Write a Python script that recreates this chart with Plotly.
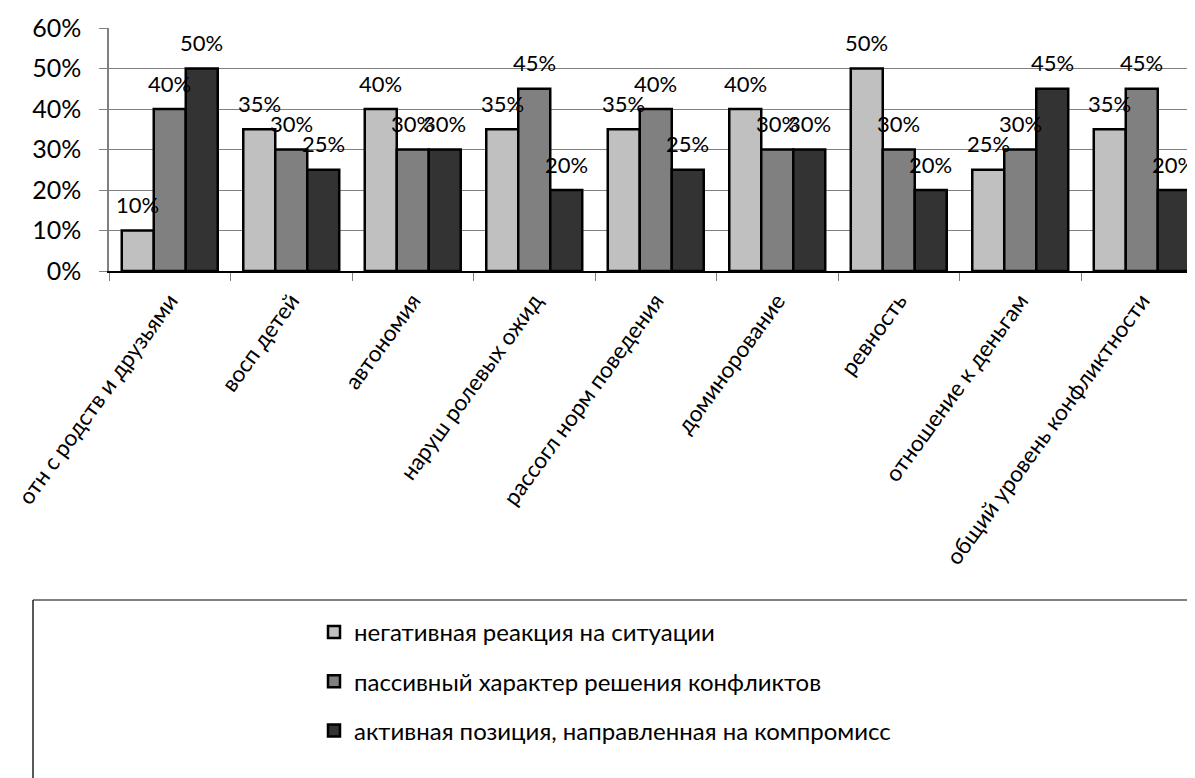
import plotly.graph_objects as go

categories = ["отн с родств и друзьями", "восп детей", "автономия", "наруш ролевых ожид",
              "рассогл норм поведения", "доминорование", "ревность", "отношение к деньгам",
              "общий уровень конфликтности"]
series_names = ["негативная реакция на ситуации",
                "пассивный характер решения конфликтов",
                "активная позиция, направленная на компромисс"]
negative = [10, 35, 40, 35, 35, 40, 50, 25, 35]
passive = [40, 30, 30, 45, 40, 30, 30, 30, 45]
active = [50, 25, 30, 20, 25, 30, 20, 45, 20]
y_ticks = [0, 10, 20, 30, 40, 50, 60]
y_tick_labels = [f"{v}%" for v in y_ticks]

colors = ["#c0c0c0", "#808080", "#333333"]
FONT = "Lato, 'Open Sans', sans-serif"

# page has an 8px body margin; figure is sized to end at the window edge
OFF = 8
W, H = 1195 - OFF, 778 - OFF
ML, MR, MT = 109 - OFF, 0, 28 - OFF
MB = H - (271 - OFF)
plot_w = W - ML - MR
plot_h = H - MT - MB
bargap = 0.21
cat_px = 121.5

fig = go.Figure()
all_series = [negative, passive, active]
for name, vals, col in zip(series_names, all_series, colors):
    fig.add_trace(go.Bar(
        x=categories, y=vals, name=name, legendgroup=name,
        marker=dict(color=col, line=dict(color="black", width=2.5)),
    ))

# value labels above bars
n = len(all_series)
bw = (1 - bargap) / n
annotations = []
for k, vals in enumerate(all_series):
    off = (k - (n - 1) / 2) * bw
    for i, v in enumerate(vals):
        annotations.append(dict(
            x=i + off, y=v, xref="x", yref="y", text=f"{v}%", showarrow=False,
            yanchor="middle", xanchor="center", yshift=26,
            font=dict(family=FONT, size=22, color="black"),
        ))


def px_to_paper_x(px):
    return (px - OFF - ML) / plot_w


def px_to_paper_y(py):
    return (H - MB - (py - OFF)) / plot_h


shapes = [
    dict(type="line", xref="paper", yref="paper",
         x0=px_to_paper_x(33), x1=px_to_paper_x(1300),
         y0=px_to_paper_y(600), y1=px_to_paper_y(600),
         line=dict(color="#808080", width=2)),
    dict(type="line", xref="paper", yref="paper",
         x0=px_to_paper_x(33), x1=px_to_paper_x(33),
         y0=px_to_paper_y(600), y1=px_to_paper_y(800),
         line=dict(color="#222222", width=1.5)),
]

fig.update_layout(
    width=W, height=H,
    margin=dict(l=ML, r=MR, t=MT, b=MB, autoexpand=False),
    paper_bgcolor="white", plot_bgcolor="white",
    barmode="group", bargap=bargap, bargroupgap=0,
    font=dict(family=FONT, size=18, color="black"),
    annotations=annotations, shapes=shapes,
    showlegend=True,
    legend=dict(
        x=px_to_paper_x(314), y=px_to_paper_y(610), xanchor="left", yanchor="top",
        xref="paper", yref="paper",
        orientation="v", tracegroupgap=15, traceorder="grouped",
        font=dict(family=FONT, size=24, color="black"),
        bgcolor="rgba(0,0,0,0)", itemwidth=30,
    ),
    xaxis=dict(
        type="category", range=[-0.5, -0.5 + plot_w / cat_px],
        tickangle=-54, ticks="outside", tickson="boundaries", ticklen=8,
        tickcolor="#808080", showline=True, linecolor="black", linewidth=1.5,
        tickfont=dict(family=FONT, size=22.5, color="black"), showgrid=False,
        ticklabelstandoff=6,
    ),
    yaxis=dict(
        range=[0, 60], tickvals=y_ticks, ticktext=y_tick_labels,
        ticks="outside", ticklen=8, tickcolor="#808080",
        showline=True, linecolor="#808080", linewidth=1.5,
        showgrid=True, gridcolor="#808080", gridwidth=1,
        tickfont=dict(family=FONT, size=25, color="black"),
        ticklabelstandoff=13, zeroline=False,
    ),
)

fig.write_html("out.html")
